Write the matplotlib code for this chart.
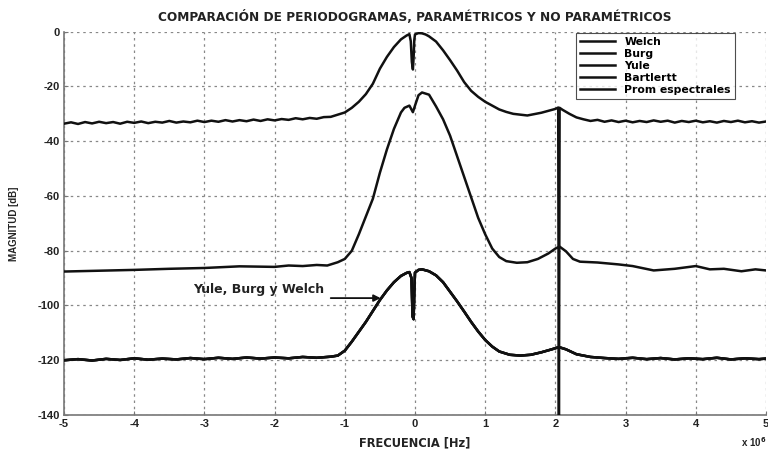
import matplotlib
matplotlib.use("Agg")
import matplotlib.pyplot as plt
import numpy as np

# ---------------- data ----------------
# top curve (Bartlertt)
top_f = [-5.0, -4.9, -4.8, -4.7, -4.6, -4.5, -4.4, -4.3, -4.2, -4.1,
         -4.0, -3.9, -3.8, -3.7, -3.6, -3.5, -3.4, -3.3, -3.2, -3.1,
         -3.0, -2.9, -2.8, -2.7, -2.6, -2.5, -2.4, -2.3, -2.2, -2.1,
         -2.0, -1.9, -1.8, -1.7, -1.6, -1.5, -1.4, -1.3, -1.2, -1.1,
         -1.0, -0.9, -0.8, -0.7, -0.6, -0.5, -0.4, -0.3, -0.2, -0.12,
         -0.08, -0.06, -0.045, -0.03, -0.02, -0.01, 0.0, 0.05, 0.1, 0.15,
         0.2, 0.3, 0.4, 0.5, 0.6, 0.7, 0.8, 0.9, 1.0, 1.1,
         1.2, 1.3, 1.4, 1.5, 1.6, 1.7, 1.8, 1.9, 2.0, 2.04,
         2.05, 2.06, 2.1, 2.2, 2.3, 2.4, 2.5, 2.6, 2.7, 2.8,
         2.9, 3.0, 3.1, 3.2, 3.3, 3.4, 3.5, 3.6, 3.7, 3.8,
         3.9, 4.0, 4.1, 4.2, 4.3, 4.4, 4.5, 4.6, 4.7, 4.8,
         4.9, 5.0]
top_db = [-33.6, -33.1, -33.7, -33.0, -33.5, -32.9, -33.4, -33.0, -33.6, -32.9,
          -33.3, -32.8, -33.4, -32.9, -33.2, -32.6, -33.2, -32.8, -33.1, -32.5,
          -33.0, -32.5, -32.9, -32.3, -32.8, -32.3, -32.7, -32.1, -32.6, -32.0,
          -32.4, -31.9, -32.2, -31.6, -32.0, -31.5, -31.8, -31.2, -31.1, -30.3,
          -29.5, -27.8, -25.6, -22.8, -19.0, -13.5, -9.2, -5.6, -2.8, -1.4,
          -0.9, -3.5, -11.0, -13.8, -9.5, -3.0, -1.0, -0.5, -0.6, -1.0,
          -1.7, -3.6, -6.8, -10.4, -14.2, -18.4, -21.6, -23.8, -25.6, -27.0,
          -28.4, -29.3, -30.0, -30.3, -30.6, -30.1, -29.6, -28.9, -28.2, -27.7,
          -150.0, -27.8, -28.5, -30.0, -31.3, -32.0, -32.6, -32.2, -32.9, -32.4,
          -33.0, -32.5, -33.1, -32.6, -33.0, -32.4, -32.9, -32.5, -33.2, -32.6,
          -33.0, -32.5, -33.1, -32.7, -33.2, -32.6, -33.0, -32.5, -33.1, -32.7,
          -33.2, -32.8]

# middle curve (Prom espectrales)
mid_f = [-5.0, -4.5, -4.0, -3.5, -3.0, -2.5, -2.0, -1.8, -1.6, -1.4,
         -1.25, -1.1, -1.0, -0.9, -0.8, -0.7, -0.6, -0.5, -0.4, -0.3,
         -0.2, -0.15, -0.08, -0.03, 0.0, 0.05, 0.1, 0.2, 0.3, 0.4,
         0.5, 0.6, 0.7, 0.8, 0.9, 1.0, 1.1, 1.2, 1.3, 1.45,
         1.6, 1.75, 1.9, 2.0, 2.06, 2.15, 2.25, 2.35, 2.6, 2.9,
         3.1, 3.4, 3.7, 4.0, 4.2, 4.4, 4.65, 4.85, 5.0]
mid_db = [-87.6, -87.3, -87.0, -86.6, -86.3, -85.7, -85.9, -85.4, -85.6, -85.2,
          -85.4, -84.2, -83.0, -80.0, -74.0, -67.5, -61.0, -51.5, -43.0, -35.5,
          -29.5, -27.8, -27.0, -29.4, -27.0, -23.2, -22.2, -23.0, -27.3, -32.0,
          -38.0, -45.5, -53.0, -60.5, -68.0, -74.0, -79.2, -82.3, -83.8, -84.4,
          -84.2, -83.0, -81.0, -79.2, -78.5, -80.2, -83.0, -84.0, -84.3, -85.0,
          -85.6, -87.2, -86.6, -85.6, -86.8, -86.6, -87.5, -86.8, -87.2]

# bottom curve (Welch / Burg / Yule)
bot_f = [-5.0, -4.8, -4.6, -4.4, -4.2, -4.0, -3.8, -3.6, -3.4, -3.2,
         -3.0, -2.8, -2.6, -2.4, -2.2, -2.0, -1.8, -1.6, -1.4, -1.2,
         -1.1, -1.0, -0.9, -0.8, -0.7, -0.6, -0.5, -0.4, -0.3, -0.2,
         -0.12, -0.08, -0.05, -0.035, -0.02, -0.01, 0.0, 0.05, 0.1, 0.2,
         0.3, 0.4, 0.5, 0.6, 0.7, 0.8, 0.9, 1.0, 1.1, 1.2,
         1.35, 1.5, 1.65, 1.8, 1.95, 2.05, 2.15, 2.3, 2.5, 2.7,
         2.9, 3.1, 3.3, 3.5, 3.7, 3.9, 4.1, 4.3, 4.5, 4.7,
         4.9, 5.0]
bot_db = [-120.0, -119.6, -120.1, -119.5, -119.9, -119.3, -119.8, -119.4, -119.7, -119.2,
          -119.6, -119.1, -119.5, -119.0, -119.4, -119.0, -119.3, -118.8, -119.1, -118.7,
          -118.3, -116.5, -113.2, -109.6, -106.0, -102.0, -98.0, -94.5, -91.5, -89.2,
          -88.1, -87.8, -90.0, -104.0, -105.0, -95.0, -88.0, -87.0, -86.8, -87.5,
          -89.0, -91.5, -95.0, -98.5, -102.2, -106.0, -109.5, -112.6, -115.0, -116.8,
          -118.0, -118.3, -118.0, -117.1, -116.0, -115.2, -116.0, -117.8, -118.8, -119.2,
          -119.5, -119.1, -119.6, -119.2, -119.7, -119.3, -119.6, -119.1, -119.7, -119.3,
          -119.6, -119.4]

legend_labels = ["Welch", "Burg", "Yule", "Bartlertt", "Prom espectrales"]
x_ticks = [-5, -4, -3, -2, -1, 0, 1, 2, 3, 4, 5]
y_ticks = [0, -20, -40, -60, -80, -100, -120, -140]

# ---------------- figure ----------------
plt.rcParams['font.family'] = ['Liberation Sans', 'DejaVu Sans']
fig = plt.figure(figsize=(7.68, 4.51), dpi=100)
ax = fig.add_axes([64 / 768, 1 - 415 / 451, 702 / 768, (415 - 31.7) / 451])

lw = 1.8
col = '#111111'
ax.plot(bot_f, bot_db, color=col, lw=lw, label=legend_labels[0], zorder=3)
ax.plot(bot_f, bot_db, color=col, lw=lw, label=legend_labels[1], zorder=3)
ax.plot(bot_f, bot_db, color=col, lw=lw, label=legend_labels[2], zorder=3)
ax.plot(top_f, top_db, color=col, lw=lw, label=legend_labels[3], zorder=3)
ax.plot(mid_f, mid_db, color=col, lw=lw, label=legend_labels[4], zorder=3)

ax.set_xlim(-5, 5)
ax.set_ylim(-140, 0)
ax.set_xticks(x_ticks)
ax.set_yticks(y_ticks)
ax.set_xticklabels([str(t) for t in x_ticks])
ax.set_yticklabels([str(t) for t in y_ticks])
ax.tick_params(direction='in', length=3, color='#777777', labelsize=8, pad=3)
for lab in ax.get_xticklabels() + ax.get_yticklabels():
    lab.set_fontweight('bold')
    lab.set_color('#222222')

ax.grid(True, color='#888888', linestyle=(0, (2, 3)), linewidth=0.9)
ax.set_axisbelow(True)
for s in ['top', 'right']:
    ax.spines[s].set_visible(False)
for s in ['left', 'bottom']:
    ax.spines[s].set_color('#777777')
    ax.spines[s].set_linewidth(1.2)

ax.set_title("COMPARACIÓN DE PERIODOGRAMAS, PARAMÉTRICOS Y NO PARAMÉTRICOS",
             fontsize=8.7, fontweight='bold', family='DejaVu Sans', pad=8, color='#222222')
ax.set_xlabel("FRECUENCIA [Hz]", fontsize=8.3, fontweight='bold', family='DejaVu Sans',
              labelpad=5, color='#222222')
ax.set_ylabel("MAGNITUD [dB]", fontsize=7, fontweight='bold', labelpad=13, color='#222222')
fig.text(741 / 768, 1 - 447 / 451, r"x 10$^{\mathbf{6}}$", fontsize=7, fontweight='bold',
         ha='left', va='baseline', color='#222222')

leg = ax.legend(loc='upper right', bbox_to_anchor=(0.956, 0.997), fontsize=7.8,
                frameon=True, fancybox=False, edgecolor='#222222', handlelength=3.2,
                borderpad=0.4, labelspacing=0.18, handletextpad=0.9, borderaxespad=0)
leg.get_frame().set_linewidth(0.8)
for t in leg.get_texts():
    t.set_fontweight('bold')
    t.set_family('DejaVu Sans')

ax.annotate("", xy=(-0.45, -97.3), xytext=(-1.24, -97.3),
            arrowprops=dict(arrowstyle='-|>', color=col, lw=1.3, mutation_scale=10))
ax.text(-3.16, -94.0, "Yule, Burg y Welch", fontsize=9, fontweight='bold',
        family='DejaVu Sans', va='center', ha='left', color='#222222')

fig.savefig("out.png", dpi=100)
